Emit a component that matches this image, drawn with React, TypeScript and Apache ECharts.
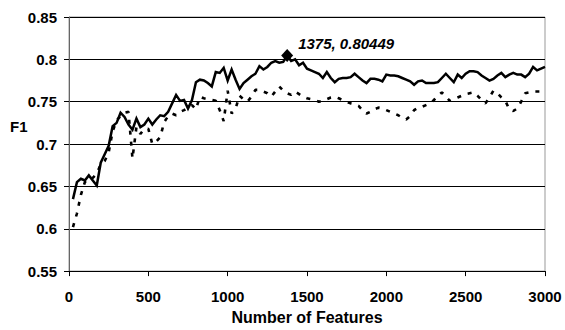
import React, { useEffect, useRef } from "react";
import * as echarts from "echarts";

const features: number[] = [
  25, 50, 75, 100, 125, 150, 175, 200, 225, 250, 275, 300, 325, 350, 375, 400, 425, 450, 475, 500,
  525, 550, 575, 600, 625, 650, 675, 700, 725, 750, 775, 800, 825, 850, 875, 900, 925, 950, 975, 1000,
  1025, 1050, 1075, 1100, 1125, 1150, 1175, 1200, 1225, 1250, 1275, 1300, 1325, 1350, 1375, 1400, 1425, 1450, 1475, 1500,
  1525, 1550, 1575, 1600, 1625, 1650, 1675, 1700, 1725, 1750, 1775, 1800, 1825, 1850, 1875, 1900, 1925, 1950, 1975, 2000,
  2025, 2050, 2075, 2100, 2125, 2150, 2175, 2200, 2225, 2250, 2275, 2300, 2325, 2350, 2375, 2400, 2425, 2450, 2475, 2500,
  2525, 2550, 2575, 2600, 2625, 2650, 2675, 2700, 2725, 2750, 2775, 2800, 2825, 2850, 2875, 2900, 2925, 2950, 2975, 3000,
];

const solidF1: number[] = [
  0.635, 0.655, 0.659, 0.657, 0.663, 0.657, 0.651, 0.678, 0.688, 0.698, 0.721, 0.725, 0.737, 0.732, 0.723, 0.717, 0.730, 0.720, 0.723, 0.730,
  0.723, 0.729, 0.734, 0.733, 0.738, 0.748, 0.758, 0.751, 0.752, 0.742, 0.752, 0.773, 0.776, 0.775, 0.772, 0.768, 0.785, 0.784, 0.790, 0.775,
  0.788, 0.776, 0.765, 0.772, 0.776, 0.780, 0.783, 0.792, 0.788, 0.791, 0.796, 0.798, 0.796, 0.797, 0.80449, 0.798, 0.800, 0.793, 0.796, 0.789,
  0.787, 0.785, 0.783, 0.778, 0.785, 0.778, 0.773, 0.777, 0.778, 0.778, 0.779, 0.783, 0.779, 0.775, 0.772, 0.777, 0.777, 0.776, 0.774, 0.782,
  0.781, 0.781, 0.780, 0.778, 0.776, 0.774, 0.770, 0.774, 0.775, 0.772, 0.772, 0.772, 0.773, 0.778, 0.783, 0.778, 0.773, 0.782, 0.778, 0.783,
  0.786, 0.786, 0.785, 0.781, 0.778, 0.775, 0.777, 0.781, 0.784, 0.779, 0.782, 0.784, 0.782, 0.782, 0.779, 0.783, 0.791, 0.787, 0.789, 0.791,
];

const dashedF1: number[] = [
  0.602, 0.618, 0.640, 0.655, 0.660, 0.660, 0.665, 0.676, 0.680, 0.690, 0.715, 0.728, 0.733, 0.737, 0.738, 0.683, 0.720, 0.712, 0.718, 0.718,
  0.700, 0.703, 0.708, 0.726, 0.733, 0.736, 0.734, 0.738, 0.740, 0.743, 0.746, 0.741, 0.756, 0.754, 0.753, 0.752, 0.751, 0.740, 0.727, 0.763,
  0.736, 0.742, 0.757, 0.753, 0.750, 0.756, 0.764, 0.764, 0.762, 0.760, 0.756, 0.762, 0.768, 0.763, 0.760, 0.758, 0.762, 0.759, 0.756, 0.754,
  0.753, 0.752, 0.750, 0.751, 0.753, 0.755, 0.756, 0.754, 0.752, 0.750, 0.748, 0.747, 0.745, 0.740, 0.736, 0.738, 0.741, 0.743, 0.742, 0.740,
  0.738, 0.736, 0.734, 0.731, 0.729, 0.733, 0.740, 0.743, 0.744, 0.746, 0.748, 0.752, 0.757, 0.761, 0.756, 0.751, 0.753, 0.755, 0.757, 0.759,
  0.760, 0.761, 0.757, 0.752, 0.748, 0.755, 0.763, 0.760, 0.755, 0.751, 0.741, 0.739, 0.742, 0.750, 0.760, 0.761, 0.762, 0.762, 0.762, 0.759,
];

const peakPoint: [number, number] = [1375, 0.80449];
const peakLabel = "1375, 0.80449";
const xAxisTitle = "Number of Features";
const yAxisTitle = "F1";

const FONT = "'Liberation Sans', Arial, sans-serif";

export default function App() {
  const ref = useRef<HTMLDivElement>(null);

  useEffect(() => {
    if (!ref.current) return;
    const chart = echarts.init(ref.current, undefined, { renderer: "svg" });
    const solidData = features.map((f, i) => [f, solidF1[i]]);
    const dashedData = features.map((f, i) => [f, dashedF1[i]]);

    chart.setOption({
      animation: false,
      backgroundColor: "#fff",
      grid: {
        left: 69,
        right: 20,
        top: 17,
        bottom: 53,
        show: true,
        borderColor: "#999",
        borderWidth: 1,
      },
      xAxis: {
        type: "value",
        min: 0,
        max: 3000,
        interval: 500,
        name: xAxisTitle,
        nameLocation: "middle",
        nameGap: 35,
        nameTextStyle: { fontFamily: FONT, fontWeight: "bold", fontSize: 16, color: "#000" },
        axisLine: { show: true, lineStyle: { color: "#000", width: 1 } },
        axisTick: { show: true, inside: false, length: 5, lineStyle: { color: "#000" } },
        axisLabel: {
          fontFamily: FONT,
          fontWeight: "bold",
          fontSize: 15,
          color: "#000",
          margin: 18,
          formatter: (v: number) => String(Math.round(v)),
        },
        splitLine: { show: false },
      },
      yAxis: {
        type: "value",
        min: 0.55,
        max: 0.85,
        interval: 0.05,
        axisLine: { show: true, lineStyle: { color: "#666", width: 1 } },
        axisTick: { show: true, inside: false, length: 5, lineStyle: { color: "#000" } },
        axisLabel: {
          fontFamily: FONT,
          fontWeight: "bold",
          fontSize: 15,
          color: "#000",
          margin: 12,
          formatter: (v: number) => String(parseFloat(v.toFixed(2))),
        },
        splitLine: { show: true, lineStyle: { color: "#000", width: 1 } },
      },
      graphic: [
        {
          type: "text",
          left: 10,
          top: 119,
          style: {
            text: yAxisTitle,
            font: `bold 15px ${FONT}`,
            fill: "#000",
          },
        },
      ],
      series: [
        {
          type: "line",
          data: dashedData,
          showSymbol: false,
          symbol: "none",
          lineStyle: { color: "#000", width: 2.6, type: [4, 7], cap: "butt" },
          z: 2,
        },
        {
          type: "line",
          data: solidData,
          showSymbol: false,
          symbol: "none",
          lineStyle: { color: "#000", width: 2.5, join: "miter" },
          z: 3,
        },
        {
          type: "scatter",
          data: [peakPoint],
          symbol: "diamond",
          symbolSize: [12, 13],
          itemStyle: { color: "#000", opacity: 1 },
          z: 4,
          label: {
            show: true,
            position: "right",
            distance: 5,
            offset: [0, -12],
            formatter: peakLabel,
            fontFamily: FONT,
            fontWeight: "bold",
            fontStyle: "italic",
            fontSize: 15,
            color: "#000",
            opacity: 1,
          },
        },
      ],
    });

    return () => chart.dispose();
  }, []);

  return (
    <div
      ref={ref}
      style={{ position: "fixed", left: 0, top: 0, width: 565, height: 330 }}
    />
  );
}
